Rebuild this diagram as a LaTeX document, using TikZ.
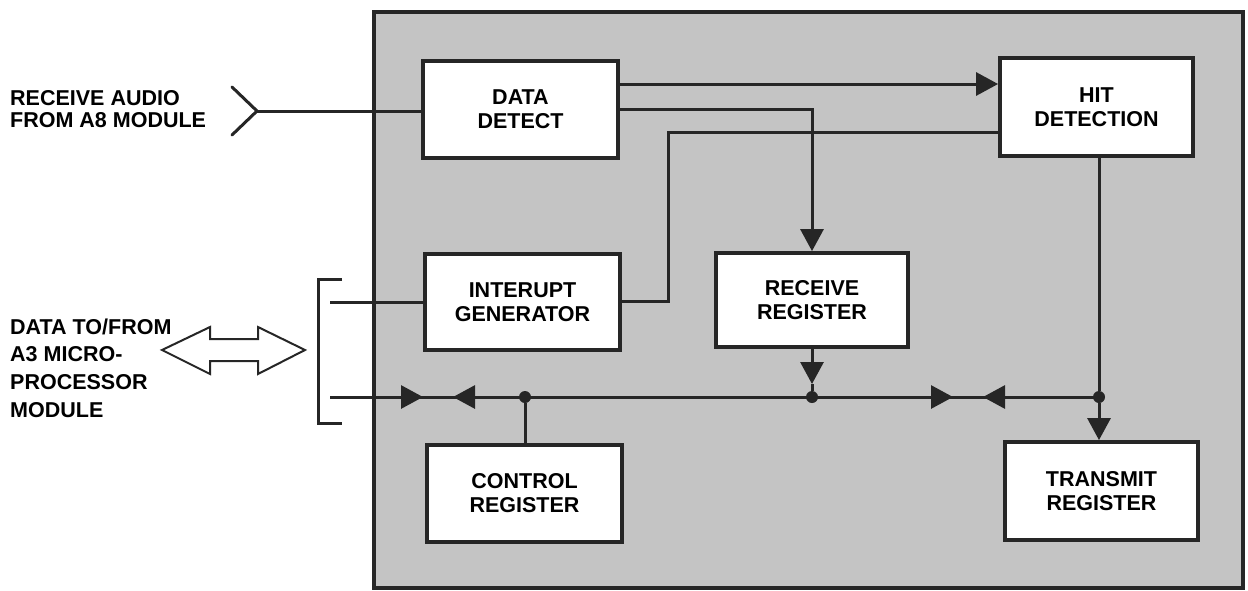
\documentclass[tikz,border=0pt]{standalone}
\usepackage{fontspec}
\setmainfont{Liberation Sans}
\usetikzlibrary{arrows.meta}
\begin{document}
\begin{tikzpicture}[x=1pt,y=-1pt,
  blk/.style={draw=black!85, line width=3.8pt, fill=white, align=center,
    font=\fontsize{21.5}{24}\selectfont\bfseries, inner sep=0pt},
  lbl/.style={align=left, anchor=west, inner sep=0pt,
    font=\fontsize{21.5}{24}\selectfont\bfseries},
  wire/.style={draw=black!85, line width=3pt},
  tri/.style={-{Triangle[length=22pt,width=23pt]}},
  dotj/.style={circle, fill=black!85, minimum size=12pt, inner sep=0pt}]
\useasboundingbox (0,0) rectangle (1248,590);
% outer frame
\draw[line width=4.8pt, draw=black!85, fill=black!23] (374,12) rectangle (1243,588);
% blocks
\node[blk, minimum width=195pt, minimum height=97pt] (dd) at (520.5,109.5) {DATA\\DETECT};
\node[blk, minimum width=193pt, minimum height=98pt] (hd) at (1096.5,107) {HIT\\DETECTION};
\node[blk, minimum width=195pt, minimum height=96pt] (ig) at (522.5,302) {INTERUPT\\GENERATOR};
\node[blk, minimum width=192pt, minimum height=94pt] (rr) at (812,300) {RECEIVE\\REGISTER};
\node[blk, minimum width=195pt, minimum height=97pt] (cr) at (524.5,493.5) {CONTROL\\REGISTER};
\node[blk, minimum width=193pt, minimum height=98pt] (tr) at (1101.5,491) {TRANSMIT\\REGISTER};
% external labels
\node[lbl] (la) at (10,109) {RECEIVE AUDIO\\[-2pt]FROM A8 MODULE};
\node[lbl, font=\fontsize{21.5}{27.7}\selectfont\bfseries] (lb) at (10,368) {DATA TO/FROM\\A3 MICRO-\\PROCESSOR\\MODULE};
% input chevron
\coordinate (chev) at (257,111);
\draw[wire, line cap=round, line join=round] (232,87) -- (chev) -- (232,135);
\draw[wire] (chev) -- (chev -| dd.west);
% double arrow
\draw[line width=2pt, draw=black!85, fill=white, line join=miter]
  (162,350) -- (210,327) -- (210,339) -- (258,339) -- (258,327) -- (305,350)
  -- (258,374) -- (258,361) -- (210,361) -- (210,374) -- cycle;
% bracket
\coordinate (bt) at (342,279);
\coordinate (bb) at (342,423);
\draw[wire] (bt) -- (318,279) -- (318,423) -- (bb);
% DATA DETECT -> HIT DETECTION
\coordinate (d1) at (618,84);
\draw[wire, tri] (d1) -- (d1 -| hd.west);
% DATA DETECT -> RECEIVE REGISTER
\coordinate (d2) at (618,109);
\draw[wire, tri] (d2) -| (rr.north);
% HIT DETECTION -> INTERUPT GENERATOR
\coordinate (h1) at (1000,132);
\coordinate (igb) at (668,301);
\draw[wire] (h1) -| (igb) -- (igb -| ig.east);
% bracket line to INTERUPT GENERATOR
\coordinate (bl1) at (330,302);
\draw[wire] (bl1) -- (bl1 -| ig.west);
% bus
\coordinate (busL) at (330,397);
\coordinate (jc) at (525,397);
\coordinate (jr) at (812,397);
\coordinate (jh) at (1099,397);
\draw[wire] (busL) -- (jh);
\node[dotj] (njc) at (jc) {};
\node[dotj] (njr) at (jr) {};
\node[dotj] (njh) at (jh) {};
% bus arrowheads
\coordinate (a1) at (401,397); \coordinate (a1t) at (423,397);
\coordinate (a2) at (475,397); \coordinate (a2t) at (453,397);
\coordinate (a3) at (931,397); \coordinate (a3t) at (953,397);
\coordinate (a4) at (1005,397); \coordinate (a4t) at (983,397);
\draw[wire, tri] (a1) -- (a1t);
\draw[wire, tri] (a2) -- (a2t);
\draw[wire, tri] (a3) -- (a3t);
\draw[wire, tri] (a4) -- (a4t);
% control register tap
\draw[wire] (njc) -- (cr.north -| njc);
% receive register to bus
\coordinate (rt) at (812,384);
\draw[wire, tri] (rr.south) -- (rt);
\draw[wire] (rt) -- (njr);
% hit detection to transmit register
\draw[wire] (hd.south -| jh) -- (njh);
\draw[wire, tri] (njh) -- (njh |- tr.north);
\end{tikzpicture}
\end{document}
